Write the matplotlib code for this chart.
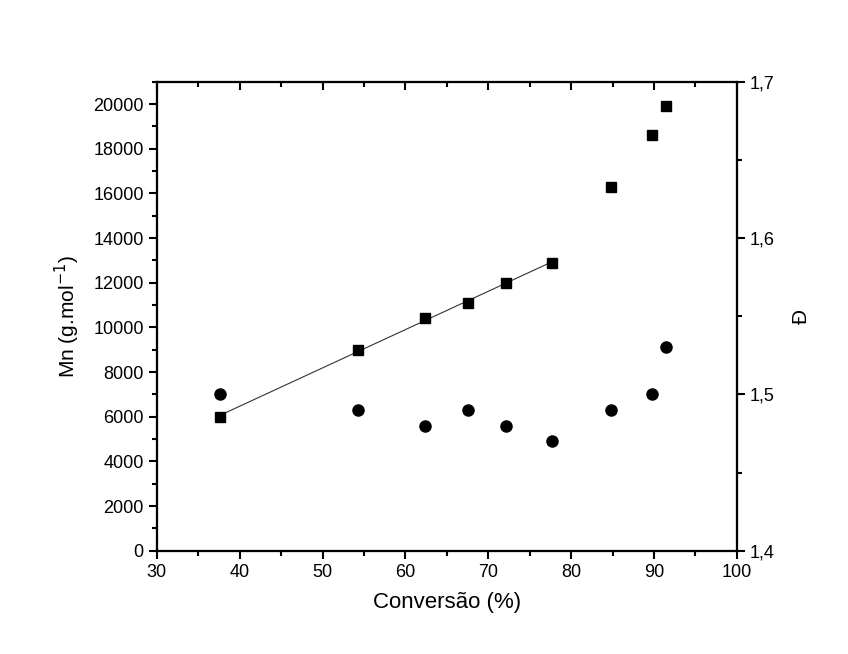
import matplotlib
matplotlib.use("Agg")
import matplotlib.pyplot as plt
import numpy as np
from matplotlib.ticker import MultipleLocator, FuncFormatter, NullFormatter

plt.rcParams['font.family'] = ['Liberation Sans', 'DejaVu Sans']

conversion = [37.6, 54.3, 62.4, 67.5, 72.1, 77.7, 84.8, 89.7, 91.4]
mn = [6000, 9000, 10400, 11100, 12000, 12900, 16300, 18600, 19900]
dispersity = [1.50, 1.49, 1.48, 1.49, 1.48, 1.47, 1.49, 1.50, 1.53]
n_fit = 6  # linear fit over first six points

fig = plt.figure(figsize=(8.48, 6.54), dpi=100)
ax = fig.add_axes([0.185, 0.158, 0.684, 0.717])
ax2 = ax.twinx()
ax3 = ax.twiny()

ax.plot(conversion, mn, 's', color='black', markersize=7, zorder=3)
coef = np.polyfit(conversion[:n_fit], mn[:n_fit], 1)
xf = np.array([conversion[0], conversion[n_fit - 1]])
ax.plot(xf, np.polyval(coef, xf), '-', color='#333333', lw=0.8, zorder=2)

ax2.plot(conversion, dispersity, 'o', color='black', markersize=8)

ax.set_xlim(30, 100)
ax3.set_xlim(30, 100)
ax.set_ylim(0, 21000)
ax2.set_ylim(1.4, 1.7)

for a in (ax, ax3):
    a.xaxis.set_major_locator(MultipleLocator(10))
    a.xaxis.set_minor_locator(MultipleLocator(5))
ax3.xaxis.set_major_formatter(NullFormatter())
ax.yaxis.set_major_locator(MultipleLocator(2000))
ax.yaxis.set_minor_locator(MultipleLocator(1000))
ax2.yaxis.set_major_locator(MultipleLocator(0.1))
ax2.yaxis.set_minor_locator(MultipleLocator(0.05))
ax2.yaxis.set_major_formatter(FuncFormatter(lambda v, p: f"{v:.1f}".replace('.', ',')))

for a in (ax, ax2, ax3):
    for s in a.spines.values():
        s.set_linewidth(1.5)

ax.tick_params(axis='both', which='both', direction='out', labelsize=13, width=1.5,
               top=False)
ax.tick_params(axis='both', which='major', length=6)
ax.tick_params(axis='both', which='minor', length=3.5)

ax3.tick_params(axis='x', which='both', direction='in', top=True, bottom=False,
                labeltop=False, labelbottom=False, width=1.5)
ax3.tick_params(axis='x', which='major', length=6)
ax3.tick_params(axis='x', which='minor', length=3.5)

ax2.tick_params(axis='y', which='both', direction='out', labelsize=13, width=1.5)
ax2.tick_params(axis='y', which='major', length=6)
ax2.tick_params(axis='y', which='minor', length=3.5)

ax.set_xlabel('Conversão (%)', fontsize=16, labelpad=8)
ax.set_ylabel('Mn (g.mol$^{-1}$)', fontsize=15, labelpad=8)
ax2.set_ylabel('Đ', fontsize=15, rotation=90, labelpad=12)

fig.savefig('out.png', dpi=100)
